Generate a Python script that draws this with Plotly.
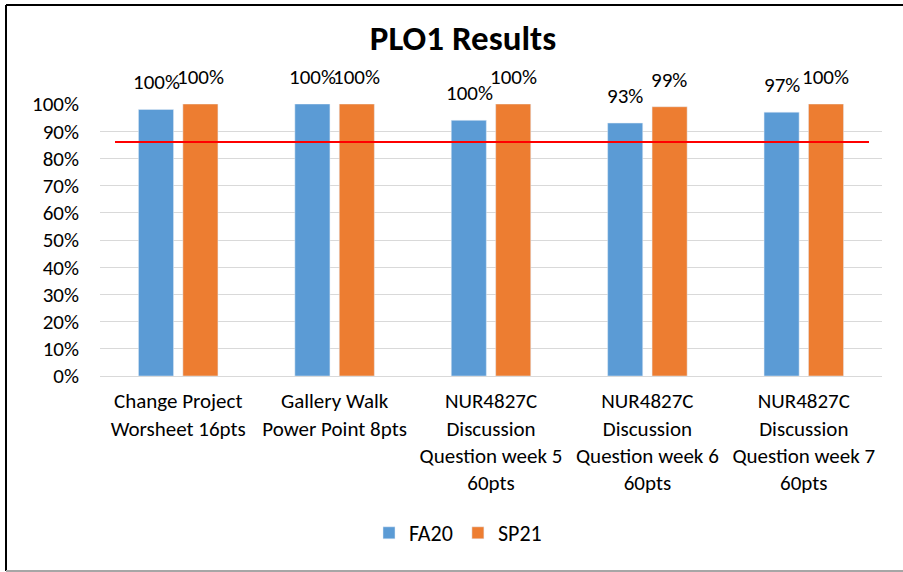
import plotly.graph_objects as go

# chart data
categories = [
    "Change Project<br>Worsheet 16pts",
    "Gallery Walk<br>Power Point 8pts",
    "NUR4827C<br>Discussion<br>Question week 5<br>60pts",
    "NUR4827C<br>Discussion<br>Question week 6<br>60pts",
    "NUR4827C<br>Discussion<br>Question week 7<br>60pts",
]
fa20 = [0.98, 1.00, 0.94, 0.93, 0.97]
sp21 = [1.00, 1.00, 1.00, 0.99, 1.00]
fa20_labels = ["100%", "100%", "100%", "93%", "97%"]
sp21_labels = ["100%", "100%", "100%", "99%", "100%"]
target = 0.86

W, H = 903, 572
L, R, T, B = 100, 21, 104, 196
FONT = "Calibri, Carlito, Lato, sans-serif"
BLUE = "#5B9BD5"
ORANGE = "#ED7D31"
FS = 21


def px(x, y):
    """pixel position -> paper coords"""
    return (x - L) / (W - L - R), (H - B - y) / (H - T - B)


fig = go.Figure()
fig.add_bar(x=categories, y=fa20, name="FA20", marker_color=BLUE)
fig.add_bar(x=categories, y=sp21, name="SP21", marker_color=ORANGE)

# data labels (Excel puts them a bit higher than plotly's outside text)
for series, labels, dx in ((fa20, fa20_labels, -22), (sp21, sp21_labels, 22)):
    for cat, val, lab in zip(categories, series, labels):
        fig.add_annotation(x=cat, y=val, text=lab, showarrow=False, xshift=dx, yshift=12,
                           yanchor="bottom", font=dict(size=FS, color="#000000"))

# target line
x0, _ = px(115, 0)
x1, _ = px(869, 0)
fig.add_shape(type="line", xref="paper", yref="y", x0=x0, x1=x1, y0=target, y1=target,
              line=dict(color="#FF0000", width=2))

# chart frame
lx, ty = px(6, 5)
rx, by = px(903, 571)
fig.add_shape(type="line", xref="paper", yref="paper", x0=lx, x1=lx, y0=by, y1=ty,
              line=dict(color="#000000", width=2))
fig.add_shape(type="line", xref="paper", yref="paper", x0=lx, x1=rx, y0=ty, y1=ty,
              line=dict(color="#000000", width=2))
fig.add_shape(type="line", xref="paper", yref="paper", x0=lx, x1=rx, y0=by, y1=by,
              line=dict(color="#A6A6A6", width=2))

lgx, lgy = px(458, 533)
fig.update_layout(
    width=W, height=H,
    margin=dict(l=L, r=R, t=T, b=B),
    paper_bgcolor="white", plot_bgcolor="white",
    font=dict(family=FONT, size=FS, color="#000000"),
    title=dict(text="<b>PLO1 Results</b>", x=463 / W, xref="container", y=1 - 38 / H,
               yref="container", xanchor="center", yanchor="middle",
               font=dict(size=35, color="#000000")),
    barmode="group", bargap=0.432, bargroupgap=0.21,
    showlegend=True,
    legend=dict(orientation="h", x=lgx, y=lgy, xanchor="center", yanchor="middle",
                font=dict(size=22), itemwidth=30),
)
fig.update_yaxes(range=[0, 1], dtick=0.1, tickformat=".0%", showgrid=True,
                 gridcolor="#D9D9D9", gridwidth=1, zeroline=False, showline=False,
                 ticks="", ticklabelstandoff=20, tickfont=dict(size=FS))
fig.update_xaxes(showline=True, linecolor="#D9D9D9", linewidth=1, ticks="",
                 ticklabelstandoff=6, tickfont=dict(size=FS))

fig.write_html("out.html", config={"displayModeBar": False},
               post_script="document.body.style.margin='0';")
